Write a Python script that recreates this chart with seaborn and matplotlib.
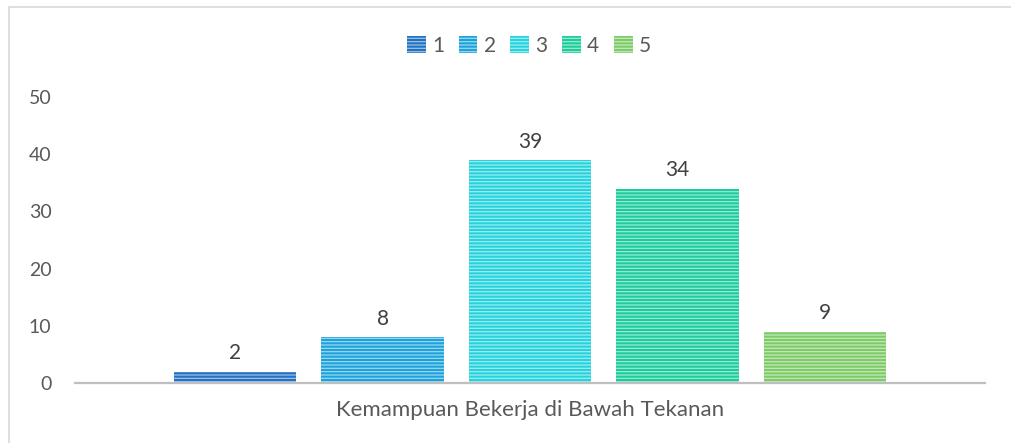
import matplotlib
matplotlib.use("Agg")
import matplotlib.pyplot as plt
import matplotlib.colors as mcolors
from matplotlib.patches import Rectangle, Patch
import seaborn as sns
import pandas as pd

kategori = ["Kemampuan Bekerja di Bawah Tekanan"] * 5
skor = ["1", "2", "3", "4", "5"]
jumlah = [2, 8, 39, 34, 9]
warna = ["#2272C3", "#1CA3DC", "#25D3DD", "#1DCC9B", "#7DCB67"]
yticks = [0, 10, 20, 30, 40, 50]

sns.set_theme(style="white")
plt.rcParams["font.family"] = ["Lato", "DejaVu Sans"]
plt.rcParams["hatch.linewidth"] = 0.9

df = pd.DataFrame({"kategori": kategori, "skor": skor, "jumlah": jumlah})

fig = plt.figure(figsize=(10.11, 4.43), dpi=100)
ax = fig.add_axes([75 / 1011, 60 / 443, 910 / 1011, (383 - 97) / 443])

sns.barplot(data=df, x="kategori", y="jumlah", hue="skor", palette=warna,
            width=0.81, gap=0.17, ax=ax, legend=False, saturation=1)

def lighter(c, f=0.55):
    r, g, b = mcolors.to_rgb(c)
    return (r + (1 - r) * f, g + (1 - g) * f, b + (1 - b) * f)

for cont, c in zip(ax.containers, warna):
    for p in cont:
        p.set_hatch("-----")
        p.set_edgecolor(lighter(c))
        p.set_linewidth(0)
    ax.bar_label(cont, fontsize=15, color="#404040", padding=6)

ax.set_ylim(0, 50)
ax.set_xlim(-0.5, 0.5)
ax.set_yticks(yticks)
ax.set_yticklabels([str(t) for t in yticks], fontsize=14, color="#595959")
ax.tick_params(axis="y", length=0, pad=17)
ax.set_xticks([])
ax.set_ylabel("")
ax.set_xlabel("Kemampuan Bekerja di Bawah Tekanan", fontsize=16, color="#595959", labelpad=12)
for s in ["top", "right", "left"]:
    ax.spines[s].set_visible(False)
ax.spines["bottom"].set_color("#BFBFBF")
ax.spines["bottom"].set_linewidth(1.6)

handles = []
for c, s in zip(warna, skor):
    handles.append(Patch(facecolor=c, edgecolor=lighter(c), hatch="-----", linewidth=0, label=s))
leg = fig.legend(handles=handles, loc="center", bbox_to_anchor=(529 / 1011, 1 - 46 / 443),
                 ncol=5, frameon=False, fontsize=15, handlelength=0.9, handleheight=0.9,
                 handletextpad=0.3, columnspacing=0.7, labelcolor="#595959")

fig.patches.append(Rectangle((9 / 1011, -0.05), 1.1, 1 - 7 / 443 + 0.05, transform=fig.transFigure,
                             fill=False, edgecolor="#D9D9D9", linewidth=1.2, zorder=0))

fig.savefig("out.png", dpi=100)
